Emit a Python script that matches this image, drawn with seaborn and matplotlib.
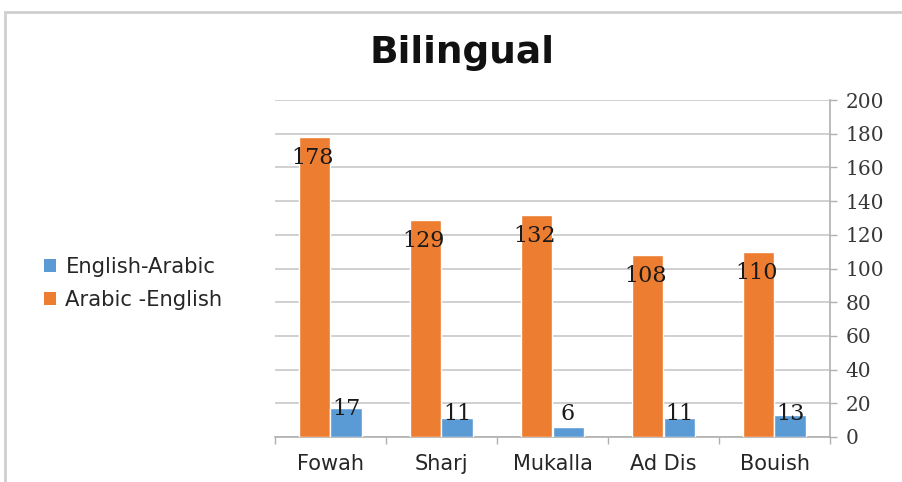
import matplotlib
matplotlib.use("Agg")
import matplotlib.pyplot as plt
from matplotlib.patches import Rectangle, Patch
import seaborn as sns
import pandas as pd
import numpy as np

# Data
sites = ["Fowah", "Sharj", "Mukalla", "Ad Dis", "Bouish"]
arabic_english = [178, 129, 132, 108, 110]
english_arabic = [17, 11, 6, 11, 13]
series_names = ["Arabic -English", "English-Arabic"]
y_ticks = [0, 20, 40, 60, 80, 100, 120, 140, 160, 180, 200]

orange = "#ED7D31"
blue = "#5B9BD5"

df = pd.DataFrame({
    "site": sites * 2,
    "series": [series_names[0]] * len(sites) + [series_names[1]] * len(sites),
    "count": arabic_english + english_arabic,
})

sns.set_theme(style="white")
plt.rcParams["font.family"] = ["DejaVu Sans"]

fig = plt.figure(figsize=(9.03, 4.82), dpi=100)
ax = fig.add_axes([275 / 903, 1 - 437 / 482, (830 - 275) / 903, (437 - 100) / 482])

sns.barplot(data=df, x="site", y="count", hue="series", hue_order=series_names,
            palette=[orange, blue], width=0.56, saturation=1, ax=ax,
            legend=False, zorder=3)

ax.set_ylim(0, 200)
ax.set_xlim(-0.5, len(sites) - 0.5)
ax.set_yticks(y_ticks)
ax.yaxis.tick_right()
ax.grid(axis="y", color="#c8c8c8", linewidth=1.2, zorder=0)
ax.set_axisbelow(True)
ax.set_xlabel("")
ax.set_ylabel("")

for side in ["top", "left"]:
    ax.spines[side].set_visible(False)
for side in ["right", "bottom"]:
    ax.spines[side].set_color("#b0b0b0")
    ax.spines[side].set_linewidth(1.2)

ax.tick_params(axis="y", which="major", right=True, length=5, width=1.0,
               color="#b0b0b0", pad=6)
for lab in ax.get_yticklabels():
    lab.set_fontfamily(["DejaVu Serif"])
    lab.set_fontsize(14.5)
    lab.set_color("#383838")

ax.set_xticks(np.arange(-0.5, len(sites), 1.0), minor=True)
ax.tick_params(axis="x", which="minor", bottom=True, length=5, width=1.0,
               color="#b0b0b0")
ax.tick_params(axis="x", which="major", bottom=False, length=0, pad=12)
for lab in ax.get_xticklabels():
    lab.set_fontsize(15)
    lab.set_color("#262626")

# Value labels
offset = 0.14
for i, v in enumerate(arabic_english):
    ax.text(i - offset - 0.02, v - 12.5, str(v), ha="center", va="center",
            fontsize=16, color="#1a1a1a", family=["DejaVu Serif"], zorder=5)
for i, v in enumerate(english_arabic):
    ax.text(i + offset, max(v, 14) - 0.5, str(v), ha="center", va="center",
            fontsize=16, color="#1a1a1a", family=["DejaVu Serif"], zorder=5)

# Title
fig.text(0.512, 0.89, "Bilingual", ha="center", va="center",
         fontsize=27, fontweight="bold", color="#111111")

# Legend
handles = [Patch(facecolor=blue, edgecolor="none", label=series_names[1]),
           Patch(facecolor=orange, edgecolor="none", label=series_names[0])]
fig.legend(handles=handles, loc="center left", bbox_to_anchor=(0.028, 0.412),
           frameon=False, fontsize=15.2, handlelength=0.55, handleheight=0.55,
           handletextpad=0.45, labelspacing=0.6, labelcolor="#262626")

# Chart frame
fig.patches.append(Rectangle((5 / 903, -0.05), 1.2, 1 - 12 / 482 + 0.05,
                             transform=fig.transFigure, fill=False,
                             edgecolor="#cfcfcf", linewidth=2.0, zorder=0))

fig.savefig("out.png", dpi=100, facecolor="white")
